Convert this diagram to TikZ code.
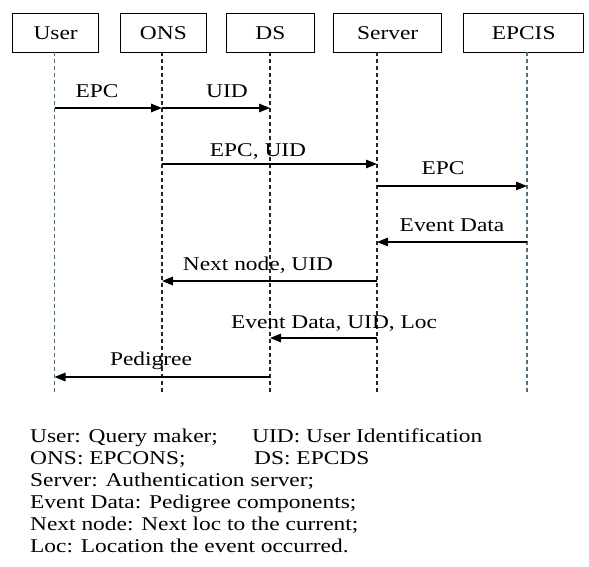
\documentclass[tikz,border=0pt]{standalone}
\usepackage{fontspec}
\setmainfont{Liberation Serif}[FakeStretch=1.2]
\usetikzlibrary{arrows.meta}
\begin{document}
\begin{tikzpicture}[x=1pt,y=-1pt,
  every node/.style={font=\fontsize{19.5}{22}\selectfont, inner sep=0pt},
  actor/.style={draw=black, line width=1.3pt, minimum height=39pt, anchor=north west},
  life/.style={line width=1.2pt, dash pattern=on 4pt off 3pt},
  lifeblack/.style={life, draw=black!85},
  lifegrey/.style={life, draw={rgb,255:red,80;green,110;blue,125}},
  msg/.style={line width=1.5pt, -{Triangle[length=11pt,width=8.5pt]}},
  lbl/.style={anchor=base},
  legend/.style={anchor=base west}]
\useasboundingbox (0,0) rectangle (589,566);
% actor boxes
\node[actor, minimum width=86pt] (user) at (12,13) {};
\node at (user.center) {User};
\node[actor, minimum width=86.5pt] (ons) at (119.5,13) {};
\node at (ons.center) {ONS};
\node[actor, minimum width=88.5pt] (ds) at (225.5,13) {};
\node at (ds.center) {DS};
\node[actor, minimum width=108pt] (srv) at (333,13) {};
\node at (srv.center) {Server};
\node[actor, minimum width=120pt] (epcis) at (463,13) {};
\node at (epcis.center) {EPCIS};
% lifelines
\coordinate (lu) at (54.5,52);  \coordinate (lub) at (54.5,393);
\coordinate (lo) at (162,52);   \coordinate (lob) at (162,393);
\coordinate (ld) at (270,52);   \coordinate (ldb) at (270,393);
\coordinate (ls) at (377,52);   \coordinate (lsb) at (377,393);
\coordinate (le) at (527,52);   \coordinate (leb) at (527,393);
\draw[lifegrey] (lu) -- (lub);
\draw[lifeblack] (lo) -- (lob);
\draw[lifeblack] (ld) -- (ldb);
\draw[lifeblack] (ls) -- (lsb);
\draw[lifegrey] (le) -- (leb);
% message rows
\coordinate (m1) at (0,108);
\coordinate (m2) at (0,164);
\coordinate (m3) at (0,186);
\coordinate (m4) at (0,242);
\coordinate (m5) at (0,281);
\coordinate (m6) at (0,338);
\coordinate (m7) at (0,377);
\draw[msg] (lu |- m1) -- (lo |- m1);
\draw[msg] (lo |- m1) -- (ld |- m1);
\draw[msg] (lo |- m2) -- (ls |- m2);
\draw[msg] (ls |- m3) -- (le |- m3);
\draw[msg] (le |- m4) -- (ls |- m4);
\draw[msg] (ls |- m5) -- (lo |- m5);
\draw[msg] (ls |- m6) -- (ld |- m6);
\draw[msg] (ld |- m7) -- (lu |- m7);
% labels
\node[lbl] (t1) at (97,97) {EPC};
\node[lbl] (t2) at (227,97) {UID};
\node[lbl] (t3) at (258,156) {EPC, UID};
\node[lbl] (t4) at (443,174) {EPC};
\node[lbl] (t5) at (452,231) {Event Data};
\node[lbl] (t6) at (258,270) {Next node, UID};
\node[lbl] (t7) at (334,328) {Event Data, UID, Loc};
\node[lbl] (t8) at (151,365) {Pedigree};
% legend
\node[legend] (g1) at (30,442) {User: Query maker;};
\node[legend] (g2) at (252,442) {UID: User Identification};
\node[legend] (g3) at (30,464) {ONS: EPCONS;};
\node[legend] (g4) at (254,464) {DS: EPCDS};
\node[legend] (g5) at (30,486) {Server: Authentication server;};
\node[legend] (g6) at (30,508) {Event Data: Pedigree components;};
\node[legend] (g7) at (30,530) {Next node: Next loc to the current;};
\node[legend] (g8) at (30,552) {Loc: Location the event occurred.};
\end{tikzpicture}
\end{document}
